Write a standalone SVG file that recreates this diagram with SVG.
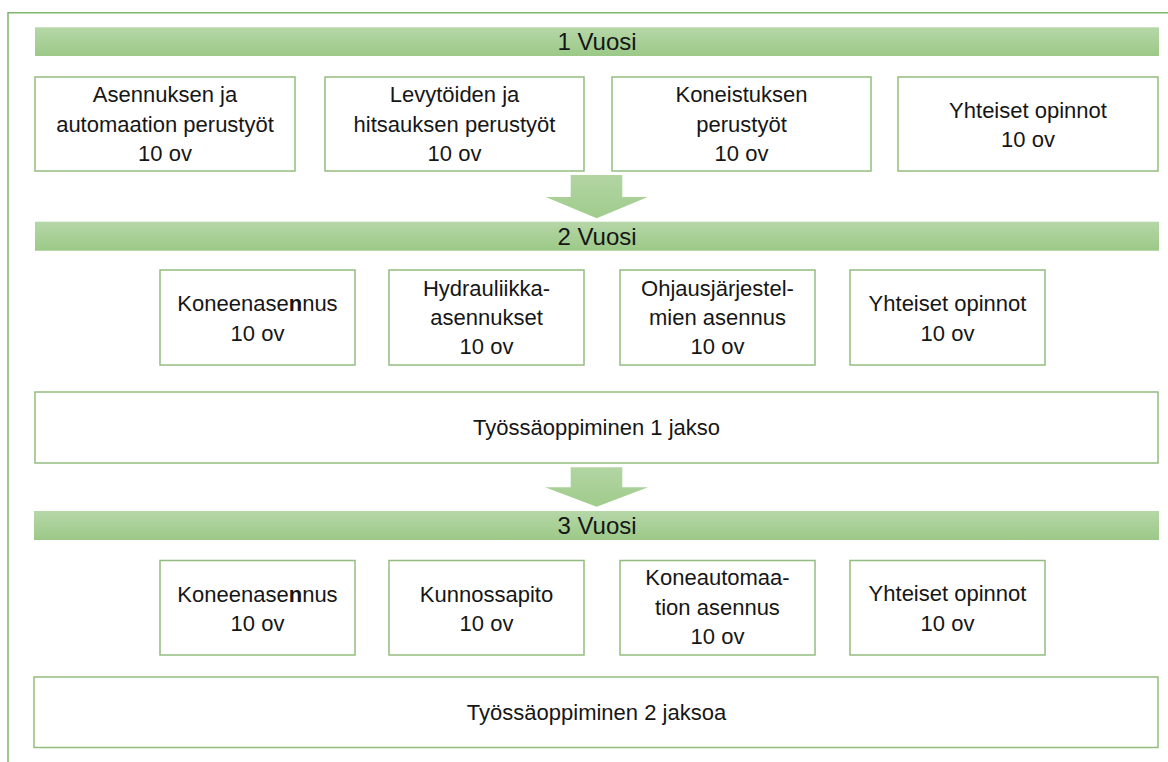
<svg xmlns="http://www.w3.org/2000/svg" width="1168" height="762" viewBox="0 0 1168 762">
<defs>
<linearGradient id="barGrad" x1="0" y1="0" x2="0" y2="1">
<stop offset="0" stop-color="#b6d7a8"/>
<stop offset="1" stop-color="#9bc987"/>
</linearGradient>
<linearGradient id="arrGrad" x1="0" y1="0" x2="0" y2="1">
<stop offset="0" stop-color="#b2d5a2"/>
<stop offset="1" stop-color="#a0cc8c"/>
</linearGradient>
<style>
.box{fill:#ffffff;stroke:#93bd80;stroke-width:1.5}
.bar{fill:url(#barGrad)}
.arrow{fill:url(#arrGrad)}
.frame{fill:none;stroke:#80b46c;stroke-width:1.5}
.t{font-family:"Liberation Sans",Arial,sans-serif;font-size:22px;fill:#161616;text-anchor:middle}
.h{font-size:24px}
.b{font-weight:bold}
</style>
</defs>
<rect width="1168" height="762" fill="#ffffff"/>
<path class="frame" d="M8,762 V12.7 H1168"/>

<g id="bar-year1"><rect class="bar" x="35" y="27.3" width="1124" height="28.7"/><text class="t h" x="597" y="50">1 Vuosi</text></g>
<g id="y1-asennus"><rect class="box" x="35" y="77" width="260" height="94"/><text class="t" x="165" y="102">Asennuksen ja</text><text class="t" x="165" y="131.5">automaation perustyöt</text><text class="t" x="165" y="161">10 ov</text></g>
<g id="y1-levytyot"><rect class="box" x="325" y="77" width="259" height="94"/><text class="t" x="454.5" y="102">Levytöiden ja</text><text class="t" x="454.5" y="131.5">hitsauksen perustyöt</text><text class="t" x="454.5" y="161">10 ov</text></g>
<g id="y1-koneistus"><rect class="box" x="612" y="77" width="259" height="94"/><text class="t" x="741.5" y="102">Koneistuksen</text><text class="t" x="741.5" y="131.5">perustyöt</text><text class="t" x="741.5" y="161">10 ov</text></g>
<g id="y1-yhteiset"><rect class="box" x="898" y="77" width="260" height="94"/><text class="t" x="1028" y="117.5">Yhteiset opinnot</text><text class="t" x="1028" y="147">10 ov</text></g>

<g id="bar-year2"><rect class="bar" x="35" y="221.7" width="1124" height="29"/><text class="t h" x="597" y="245">2 Vuosi</text></g>
<g id="y2-koneenasennus"><rect class="box" x="160" y="270" width="195" height="95"/><text class="t" x="257.5" y="311">Koneenase<tspan class="b">n</tspan>nus</text><text class="t" x="257.5" y="340.5">10 ov</text></g>
<g id="y2-hydrauliikka"><rect class="box" x="389" y="270" width="195" height="95"/><text class="t" x="486.5" y="296">Hydrauliikka-</text><text class="t" x="486.5" y="325">asennukset</text><text class="t" x="486.5" y="354">10 ov</text></g>
<g id="y2-ohjaus"><rect class="box" x="620" y="270" width="195" height="95"/><text class="t" x="717.5" y="296">Ohjausjärjestel-</text><text class="t" x="717.5" y="325">mien asennus</text><text class="t" x="717.5" y="354">10 ov</text></g>
<g id="y2-yhteiset"><rect class="box" x="850" y="270" width="195" height="95"/><text class="t" x="947.5" y="311">Yhteiset opinnot</text><text class="t" x="947.5" y="340.5">10 ov</text></g>
<g id="y2-tyossaoppiminen"><rect class="box" x="35" y="392" width="1123" height="71"/><text class="t" x="596.5" y="435">Työssäoppiminen 1 jakso</text></g>

<g id="bar-year3"><rect class="bar" x="34" y="511" width="1125" height="29"/><text class="t h" x="597" y="533.5">3 Vuosi</text></g>
<g id="y3-koneenasennus"><rect class="box" x="160" y="560.5" width="195" height="94.5"/><text class="t" x="257.5" y="601.5">Koneenase<tspan class="b">n</tspan>nus</text><text class="t" x="257.5" y="631">10 ov</text></g>
<g id="y3-kunnossapito"><rect class="box" x="389" y="560.5" width="195" height="94.5"/><text class="t" x="486.5" y="601.5">Kunnossapito</text><text class="t" x="486.5" y="631">10 ov</text></g>
<g id="y3-koneautomaatio"><rect class="box" x="620" y="560.5" width="195" height="94.5"/><text class="t" x="717.5" y="585">Koneautomaa-</text><text class="t" x="717.5" y="614.5">tion asennus</text><text class="t" x="717.5" y="644">10 ov</text></g>
<g id="y3-yhteiset"><rect class="box" x="850" y="560.5" width="195" height="94.5"/><text class="t" x="947.5" y="601">Yhteiset opinnot</text><text class="t" x="947.5" y="630.5">10 ov</text></g>
<g id="y3-tyossaoppiminen"><rect class="box" x="34" y="677" width="1124" height="70.5"/><text class="t" x="596.5" y="719.5">Työssäoppiminen 2 jaksoa</text></g>

<g id="connectors">
<path class="arrow" d="M570.7,175 H622.3 V197 H647.7 L596.7,218.3 L545.7,197 H570.7 Z"/>
<path class="arrow" d="M570.7,467.3 H622.3 V487.3 H648 L596.7,506.7 L545,487.3 H570.7 Z"/>
</g>
</svg>
